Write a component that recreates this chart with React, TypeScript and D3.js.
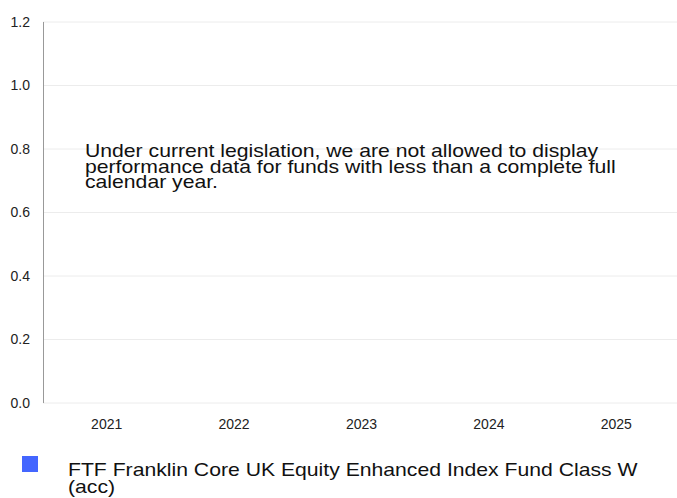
import React from "react";
import * as d3 from "d3";

const years = ["2021", "2022", "2023", "2024", "2025"];
const fundValues: (number | null)[] = [null, null, null, null, null];
const yTicks = [0, 0.2, 0.4, 0.6, 0.8, 1.0, 1.2];
const seriesName = "FTF Franklin Core UK Equity Enhanced Index Fund Class W";
const seriesNameLine2 = "(acc)";
const noticeLines = [
  "Under current legislation, we are not allowed to display",
  "performance data for funds with less than a complete full",
  "calendar year.",
];

const W = 677;
const H = 498;
const left = 43;
const right = 680;
const top = 22;
const bottom = 403;
const font = "Arial, 'Liberation Sans', sans-serif";
const stretch = 1.115;

export default function App() {
  const x = d3.scaleBand<string>().domain(years).range([left, right]);
  const y = d3.scaleLinear().domain([0, 1.2]).range([bottom, top]);
  return (
    <svg
      width={W}
      height={H}
      style={{ position: "absolute", left: 0, top: 0, display: "block" }}
      fontFamily={font}
    >
      <rect width={W} height={H} fill="#fff" />
      {yTicks.map((t) => (
        <g key={t}>
          <line x1={left} x2={W} y1={y(t)} y2={y(t)} stroke="#ececec" strokeWidth={1} />
          <text x={30} y={y(t)} dy="0.35em" textAnchor="end" fontSize={14} fill="#222">
            {t.toFixed(1)}
          </text>
        </g>
      ))}
      <line x1={left + 0.5} x2={left + 0.5} y1={top} y2={bottom} stroke="#999" strokeWidth={1} />
      {years.map((yr, i) => {
        const v = fundValues[i];
        return (
          <g key={yr}>
            {v != null && (
              <rect x={x(yr)! + x.bandwidth() * 0.3} width={x.bandwidth() * 0.4} y={y(v)} height={y(0) - y(v)} fill="#4466ff" />
            )}
            <text x={x(yr)! + x.bandwidth() / 2} y={429} textAnchor="middle" fontSize={14} fill="#222">
              {yr}
            </text>
          </g>
        );
      })}
      <g transform={`translate(85,157) scale(${stretch},1)`}>
        <text x={0} y={0} fontSize={19} fill="#111">
          {noticeLines.map((l, i) => (
            <tspan key={i} x={0} dy={i === 0 ? 0 : 15.6}>
              {l}
            </tspan>
          ))}
        </text>
      </g>
      <rect x={22} y={456} width={16} height={16} fill="#4466ff" />
      <g transform={`translate(68,476) scale(${stretch},1)`}>
        <text x={0} y={0} fontSize={19} fill="#111">
          <tspan x={0}>{seriesName}</tspan>
          <tspan x={0} dy={17}>{seriesNameLine2}</tspan>
        </text>
      </g>
    </svg>
  );
}
